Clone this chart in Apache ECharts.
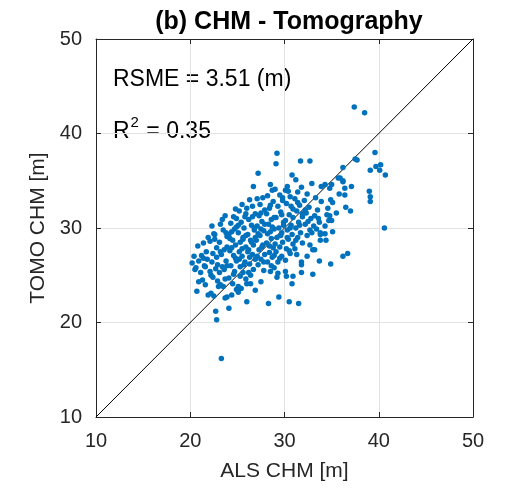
<!DOCTYPE html>
<html>
<head>
<meta charset="utf-8">
<script src="https://cdn.jsdelivr.net/npm/echarts@6/dist/echarts.min.js"></script>
<style>html,body{margin:0;padding:0;background:#fff}#c{width:508px;height:493px}</style>
</head>
<body>
<div id="c"></div>
<script>
var titleText = '(b) CHM - Tomography';
var xLabel = 'ALS CHM [m]';
var yLabel = 'TOMO CHM [m]';
var axisTicks = [10, 20, 30, 40, 50];
var rmseText = 'RSME = 3.51 (m)';
var r2Value = '0.35';
var identityLine = [[10, 10], [50, 50]];
// [ALS CHM, TOMO CHM] pairs
var samples = [
[20.2,26.3],[20.5,25.6],[20.8,28.1],[20.7,23.3],[20.4,27.0],[20.9,26.5],[20.6,25.8],[20.9,24.3],
[21.4,28.4],[21.2,27.1],[21.6,25.9],[21.8,26.7],[21.3,24.5],[21.9,22.9],[21.5,26.0],[21.7,27.5],[21.9,29.0],[21.1,25.3],[21.6,24.0],[21.4,26.8],
[22.5,29.4],[22.6,29.3],[22.1,28.6],[22.8,27.9],[22.3,26.4],[22.7,25.7],[22.2,25.0],[22.9,24.4],[22.2,23.1],[22.5,22.8],[22.7,21.2],[22.8,20.3],[23.0,23.8],[22.4,27.3],[22.9,26.1],[22.6,28.8],[22.3,30.2],[22.1,25.4],[22.8,26.9],[22.4,24.8],
[23.7,31.3],[23.2,30.4],[23.5,29.8],[23.9,29.1],[23.1,28.5],[23.6,27.7],[23.3,27.2],[23.8,26.5],[23.4,25.9],[23.1,25.3],[23.7,24.6],[23.5,23.8],[23.7,22.6],[23.9,22.7],[23.3,16.2],[23.9,28.0],[23.4,30.9],[23.9,26.0],[23.2,27.5],[23.8,29.5],[23.2,24.0],[23.6,25.6],
[24.6,31.2],[24.9,31.0],[24.3,30.5],[24.7,29.9],[24.1,29.3],[24.5,28.7],[24.8,28.2],[24.2,27.6],[24.6,27.1],[24.9,26.5],[24.3,26.0],[24.7,25.4],[24.1,24.7],[24.5,24.1],[24.4,22.9],[24.1,21.5],[24.9,30.1],[24.2,28.9],[24.4,27.9],[24.8,26.8],[24.6,25.1],[24.4,29.6],[24.8,32.0],[24.9,23.5],
[25.5,32.5],[25.2,31.8],[25.8,31.2],[25.4,30.6],[25.7,30.0],[25.1,29.5],[25.6,29.0],[25.3,28.5],[25.9,28.0],[25.2,27.5],[25.5,27.0],[25.8,26.4],[25.3,25.9],[25.6,25.3],[25.9,24.6],[25.1,23.8],[25.1,23.2],[25.4,23.6],[25.1,30.3],[25.9,29.2],[25.5,27.8],[25.2,26.7],[25.7,26.1],[25.6,28.8],[25.9,31.5],[25.3,24.9],
[26.7,34.4],[26.0,32.1],[26.6,32.3],[26.3,33.0],[26.9,31.5],[26.2,30.9],[26.5,30.3],[26.8,29.8],[26.1,29.3],[26.4,28.7],[26.7,28.2],[26.2,27.7],[26.6,27.2],[26.9,26.7],[26.3,26.2],[26.7,25.6],[26.4,25.0],[26.0,24.1],[26.4,24.1],[26.9,23.4],[26.0,22.2],[26.8,30.0],[26.5,28.5],[26.1,27.5],[26.3,26.9],[26.9,29.0],[26.6,31.2],[26.2,25.3],
[27.2,35.8],[27.1,33.1],[27.7,33.2],[27.4,32.5],[27.9,31.9],[27.3,31.3],[27.6,30.7],[27.1,30.2],[27.8,29.7],[27.4,29.2],[27.0,28.7],[27.7,28.2],[27.3,27.7],[27.9,27.2],[27.5,26.7],[27.2,26.1],[27.8,25.5],[27.5,24.3],[27.9,30.4],[27.2,29.4],[27.6,28.0],[27.1,27.0],[27.5,31.6],[27.8,26.4],[27.5,29.9],
[28.5,34.6],[28.7,34.0],[28.2,33.4],[28.8,32.8],[28.4,32.1],[28.1,31.5],[28.6,30.9],[28.3,30.4],[28.9,29.9],[28.2,29.4],[28.6,28.9],[28.1,28.4],[28.8,27.9],[28.4,27.4],[28.7,26.9],[28.2,26.4],[28.9,25.8],[28.5,25.4],[28.3,22.0],[28.9,31.1],[28.5,29.6],[28.4,28.1],[28.9,27.1],[28.7,30.1],[28.5,32.4],[28.6,26.0],
[29.2,37.9],[29.1,36.8],[29.0,34.1],[29.5,33.5],[29.8,32.9],[29.3,32.3],[29.6,31.7],[29.1,31.1],[29.9,30.6],[29.4,30.0],[29.7,29.5],[29.2,29.0],[29.8,28.5],[29.5,28.0],[29.1,27.5],[29.7,27.0],[29.3,26.4],[29.3,25.2],[29.2,24.8],[29.4,22.7],[29.9,30.3],[29.6,29.2],[29.0,28.3],[29.7,31.4],[29.5,26.8],[29.8,33.2],
[30.8,35.6],[30.3,34.4],[30.1,34.0],[30.4,33.9],[30.6,33.3],[30.2,32.6],[30.9,32.0],[30.5,31.4],[30.1,30.8],[30.7,30.3],[30.3,29.8],[30.8,29.3],[30.4,28.8],[30.9,28.3],[30.2,27.8],[30.6,27.3],[30.1,26.6],[30.1,25.4],[30.2,24.9],[30.9,24.9],[30.8,24.1],[30.5,22.2],[30.6,30.0],[30.3,29.0],[30.9,31.1],[30.5,27.6],[30.7,32.3],
[31.7,37.1],[31.2,35.1],[31.8,34.3],[31.4,33.8],[31.1,33.1],[31.6,32.4],[31.3,31.8],[31.9,31.2],[31.5,30.6],[31.2,30.0],[31.7,29.5],[31.4,29.0],[31.9,28.4],[31.1,27.8],[31.3,27.2],[31.8,26.4],[31.8,26.1],[31.8,25.3],[31.5,22.0],[31.6,30.3],[31.2,28.7],[31.9,31.5],[31.4,32.7],
[32.7,37.1],[32.9,34.7],[32.4,33.6],[32.1,32.9],[32.6,32.2],[32.3,31.6],[32.8,31.0],[32.2,30.4],[32.7,29.8],[32.4,29.2],[32.7,28.2],[33.0,27.7],[32.4,27.0],[32.5,30.7],[32.9,29.5],[32.2,31.9],
[33.9,34.4],[33.3,33.2],[33.9,32.8],[33.5,31.9],[33.2,31.3],[33.7,30.6],[33.4,29.9],[33.8,29.5],[33.8,29.3],[33.8,28.7],[33.2,27.7],[33.7,26.5],[33.0,25.1],[33.1,30.2],[33.6,31.0],
[34.8,34.2],[34.3,34.6],[34.6,32.1],[34.5,31.4],[34.8,31.3],[34.7,30.8],[34.3,30.2],[34.3,29.4],[34.4,28.7],[34.9,33.0],
[35.7,35.3],[35.0,34.6],[35.8,33.6],[35.1,32.7],[35.5,31.6],[35.0,30.8],[35.1,29.6],[34.9,26.2],[35.9,35.3],
[36.2,36.4],[36.2,35.0],[36.2,34.9],[36.4,34.2],[36.4,33.5],[36.5,32.2],[36.2,27.0],[36.7,27.3],
[37.4,42.8],[37.5,37.3],[37.7,37.2],[37.1,34.4],[37.0,31.8],
[38.5,42.2],
[39.6,38.0],[39.7,36.5],[39.1,36.1],[39.0,33.9],[39.1,33.3],[39.1,32.8],
[40.2,36.7],[40.1,36.1],[40.7,35.6],[40.6,30.0]
];

var chart = echarts.init(document.getElementById('c'), null, {renderer: 'canvas'});
var FONT = '"Liberation Sans", Arial, Helvetica, sans-serif';
var boxColor = '#262626';
function axisCommon(show, margin) {
  return {
    type: 'value', min: axisTicks[0], max: axisTicks[axisTicks.length - 1], interval: 10,
    axisLine: {show: true, onZero: false, lineStyle: {color: boxColor, width: 1}},
    axisTick: {show: true, inside: true, length: 5, lineStyle: {color: boxColor, width: 1}},
    axisLabel: {show: show, color: '#262626', fontSize: 20, fontFamily: FONT, margin: margin},
    splitLine: {show: show, lineStyle: {color: '#e3e3e3', width: 1}}
  };
}
var xB = axisCommon(true, 14); xB.position = 'bottom';
xB.name = xLabel; xB.nameLocation = 'middle'; xB.nameGap = 44;
xB.nameTextStyle = {color: '#262626', fontSize: 21, fontFamily: FONT};
var xT = axisCommon(false, 14); xT.position = 'top';
var yL = axisCommon(true, 14); yL.position = 'left';
yL.name = yLabel; yL.nameLocation = 'middle'; yL.nameGap = 45;
yL.nameTextStyle = {color: '#262626', fontSize: 21, fontFamily: FONT};
var yR = axisCommon(false, 14); yR.position = 'right';

chart.setOption({
  animation: false,
  backgroundColor: '#ffffff',
  title: {text: titleText, left: 284, top: 5, textAlign: 'center',
    textStyle: {fontSize: 25, fontWeight: 'bold', color: '#000', fontFamily: FONT}},
  grid: {left: 96, right: 35, top: 39, bottom: 76},
  xAxis: [xB, xT],
  yAxis: [yL, yR],
  graphic: [
    {type: 'text', left: 113, top: 68, style: {text: rmseText, fontSize: 23, fontFamily: FONT, fill: '#000'}},
    {type: 'text', left: 113, top: 115, style: {
      text: '{a|R}{s|2}{a| = ' + r2Value + '}',
      rich: {
        a: {fontSize: 23, fontFamily: FONT, fill: '#000', color: '#000', verticalAlign: 'bottom', lineHeight: 28},
        s: {fontSize: 15, fontFamily: FONT, fill: '#000', color: '#000', verticalAlign: 'top', lineHeight: 28, padding: [0, 1, 12, 1]}
      }
    }}
  ],
  series: [
    {type: 'line', data: identityLine, xAxisIndex: 0, yAxisIndex: 0, symbol: 'none',
      lineStyle: {color: '#000', width: 1}, silent: true, z: 3},
    {type: 'scatter', data: samples, xAxisIndex: 0, yAxisIndex: 0, symbol: 'circle', symbolSize: 5.5,
      itemStyle: {color: '#0072BD', opacity: 1}, z: 4}
  ]
});
</script>
</body>
</html>
